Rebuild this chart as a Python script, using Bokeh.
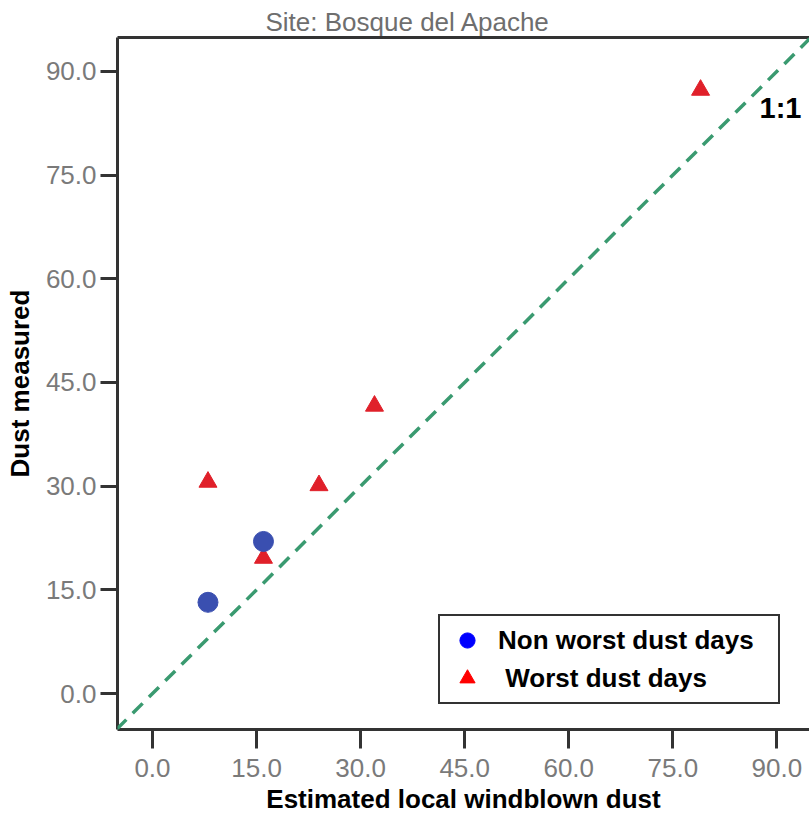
from bokeh.plotting import figure
from bokeh.models import (ColumnDataSource, Range1d, FixedTicker, LinearAxis, Legend,
                          LegendItem, Slope, Title, PrintfTickFormatter)
from bokeh.embed import file_html
from bokeh.resources import INLINE
from bokeh.core.properties import value

# ---- data ----
title_text = "Site: Bosque del Apache"
x_label = "Estimated local windblown dust"
y_label = "Dust measured"
tick_values = [0, 15, 30, 45, 60, 75, 90]

non_worst_x = [8.0, 16.0]
non_worst_y = [13.2, 22.0]
worst_x = [8.0, 16.0, 24.0, 32.0, 79.0]
worst_y = [30.6, 19.6, 30.1, 41.6, 87.3]

FONT = "Liberation Sans"
FRAME = "#333333"

p = figure(width=809, height=819, output_backend="svg", toolbar_location=None,
           x_range=Range1d(-5.04, 94.7), y_range=Range1d(-5.2, 94.9),
           x_axis_location=None, y_axis_location=None,
           min_border_left=117, min_border_right=0, min_border_top=37,
           min_border_bottom=90)
p.outline_line_color = None
p.xgrid.visible = False
p.ygrid.visible = False
p.background_fill_color = "white"
p.border_fill_color = "white"

def style_axis(ax, label):
    ax.ticker = FixedTicker(ticks=tick_values)
    ax.formatter = PrintfTickFormatter(format="%.1f")
    ax.axis_line_color = FRAME
    ax.axis_line_width = 3
    ax.major_tick_line_color = FRAME
    ax.major_tick_line_width = 3
    ax.major_tick_in = 0
    ax.minor_tick_line_color = None
    ax.major_label_text_font = FONT
    ax.major_label_text_font_size = "26px"
    ax.major_label_text_color = "#7a7a7a"
    ax.axis_label = label
    ax.axis_label_text_font = FONT
    ax.axis_label_text_font_style = "bold"
    ax.axis_label_text_font_size = "26px"
    ax.axis_label_text_color = "black"

xaxis = LinearAxis()
style_axis(xaxis, x_label)
xaxis.major_tick_out = 19
xaxis.major_label_standoff = 10
xaxis.axis_label_standoff = 4
p.add_layout(xaxis, "below")

yaxis = LinearAxis()
style_axis(yaxis, y_label)
yaxis.major_tick_out = 17
yaxis.major_label_standoff = 4
yaxis.axis_label_standoff = 8
p.add_layout(yaxis, "left")

top = LinearAxis(ticker=FixedTicker(ticks=[]))
top.axis_line_color = FRAME
top.axis_line_width = 3
top.major_tick_line_color = None
top.minor_tick_line_color = None
top.major_label_text_font_size = "0px"
p.add_layout(top, "above")

p.title = Title(text=title_text, text_font=FONT, text_font_size="26px",
                text_font_style="normal", text_color="#6e6e6e", align="left",
                offset=148, standoff=2)

# 1:1 line
p.add_layout(Slope(gradient=1, y_intercept=0, line_color="#3a9a70",
                   line_width=3.5, line_dash="14 9"))
p.text(x=[87.5], y=[84.7], text=["1:1"], text_font=value(FONT),
       text_font_size="29px", text_font_style="bold", text_color="black",
       text_baseline="middle", text_align="left")

src_nw = ColumnDataSource(dict(x=non_worst_x, y=non_worst_y))
src_w = ColumnDataSource(dict(x=worst_x, y=worst_y))

# legend renderers in the pure legend colours, hidden under the plotted marks
leg_t = p.scatter("x", "y", source=src_w, marker="triangle", size=14,
                  fill_color="#ff0000", line_color="#ff0000")
leg_c = p.scatter("x", "y", source=src_nw, marker="circle", size=15,
                  fill_color="#0000ff", line_color="#0000ff")

p.scatter("x", "y", source=src_w, marker="triangle", size=18,
          fill_color="#e0202a", line_color="#e0202a")
p.scatter("x", "y", source=src_nw, marker="circle", size=20,
          fill_color="#3a4fb0", line_color="#3a4fb0")

legend = Legend(items=[LegendItem(label="Non worst dust days", renderers=[leg_c]),
                       LegendItem(label=" Worst dust days", renderers=[leg_t])],
                location=(321, 25))
legend.border_line_color = "#333333"
legend.border_line_alpha = 1.0
legend.border_line_width = 2
legend.label_text_font = FONT
legend.label_text_font_style = "bold"
legend.label_text_font_size = "26px"
legend.label_text_color = "black"
legend.label_standoff = 9
legend.glyph_width = 44
legend.glyph_height = 38
legend.label_height = 26
legend.label_width = 275
legend.spacing = 0
legend.padding = 5
legend.margin = 0
legend.background_fill_alpha = 1
p.add_layout(legend, "center")

open("out.html", "w").write(file_html(p, INLINE))
